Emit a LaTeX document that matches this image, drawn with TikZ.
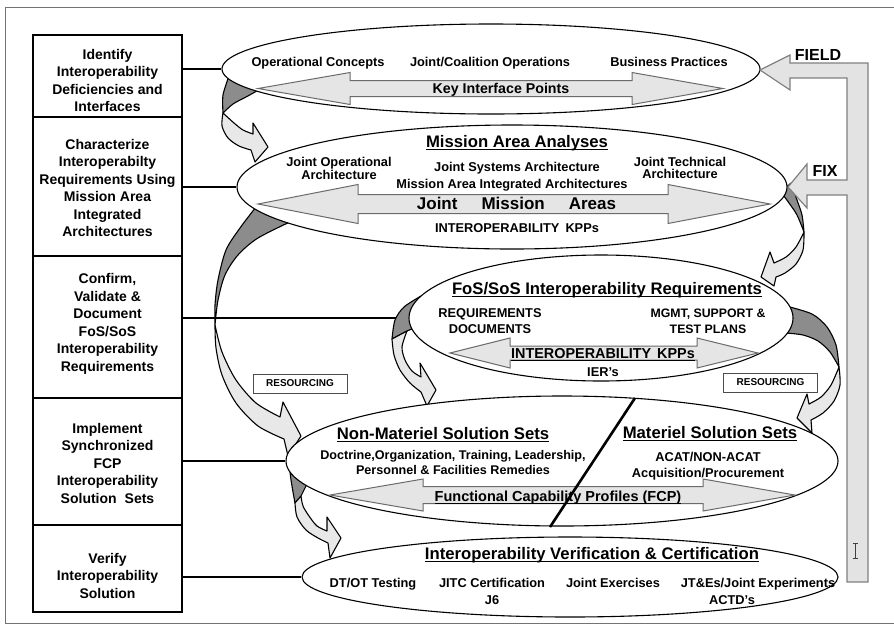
\documentclass[tikz,border=0pt]{standalone}
\usepackage{fontspec}
\setmainfont{Liberation Sans}
\usetikzlibrary{shapes.geometric}

\definecolor{ribdark}{gray}{0.55}
\definecolor{riblight}{gray}{0.91}
\definecolor{arrfill}{gray}{0.90}
\definecolor{arredge}{gray}{0.42}
\definecolor{framegray}{gray}{0.45}
\definecolor{bandfill}{gray}{0.89}
\definecolor{bandedge}{gray}{0.50}

% underline with a solid rule
\newcommand\undl[1]{\setbox0\hbox{#1}\rlap{\rule[-2.6pt]{\wd0}{1.1pt}}\box0}
\newcommand\fsz[2]{\fontsize{#1}{#2}\selectfont}

% two-headed block arrow: tipL baseL baseR tipR y shaft-half head-half
\newcommand\dblarrow[7]{%
  \filldraw[dbl] (#1,#5) -- (#2,#5-#7) -- (#2,#5-#6) -- (#3,#5-#6) -- (#3,#5-#7)
    -- (#4,#5) -- (#3,#5+#7) -- (#3,#5+#6) -- (#2,#5+#6) -- (#2,#5+#7) -- cycle;}

\pgfdeclarelayer{back}
\pgfsetlayers{back,main}

\tikzset{
  stepbox/.style={draw=black, line width=2.4pt, minimum width=149pt, inner sep=0pt},
  boxtxt/.style={align=center, font=\bfseries\fsz{14}{17.5}, inner sep=0pt},
  oval/.style={ellipse, draw=black, line width=1.1pt, fill=white, inner sep=0pt},
  lbl/.style={align=center, font=\bfseries\fsz{12.8}{16}, inner sep=0pt},
  sgl/.style={text height=9.3pt, text depth=0.3pt},
  tight/.style={align=center, font=\bfseries\fsz{12.8}{11.2}, inner sep=0pt},
  headtxt/.style={font=\bfseries\fsz{16.7}{17}, inner sep=0pt, text height=12pt, text depth=0.3pt},
  mid/.style={inner sep=0pt, text height=10.4pt, text depth=0.3pt},
  link/.style={draw=black, line width=1.1pt},
  ribdk/.style={fill=ribdark, draw=black, line width=1.1pt, line join=round},
  riblt/.style={fill=riblight, draw=black, line width=1.1pt, line join=round},
  dbl/.style={fill=arrfill, draw=arredge, line width=1pt},
  resbox/.style={draw=black!70, fill=white, line width=0.9pt, minimum width=94pt,
    minimum height=19pt, inner sep=0pt, font=\bfseries\fsz{10}{10}},
  band/.style={fill=bandfill, draw=bandedge, line width=1.2pt},
  fbtxt/.style={font=\bfseries\fsz{16}{16}, inner sep=0pt},
}

\begin{document}
\begin{tikzpicture}[x=1pt, y=-1pt]
\useasboundingbox (0,0) rectangle (894,630);

% ---- left column of process steps ----
\node[stepbox, minimum height=82pt]  (b1) at (107.5,76)    {};
\node[stepbox, minimum height=139pt] (b2) at (107.5,186.5) {};
\node[stepbox, minimum height=142pt] (b3) at (107.5,327)   {};
\node[stepbox, minimum height=127pt] (b4) at (107.5,461.5) {};
\node[stepbox, minimum height=87pt]  (b5) at (107.5,568.5) {};

\node[boxtxt] (t1) at (107.5,80.5) {Identify\\Interoperability\\Deficiencies and\\Interfaces};
\node[boxtxt] (t2) at (107.5,188) {Characterize\\Interoperabilty\\Requirements Using\\Mission Area\\Integrated\\Architectures};
\node[boxtxt] (t3) at (107.5,324) {Confirm,\\Validate \&\\Document\\FoS/SoS\\Interoperability\\Requirements};
\node[boxtxt] (t4) at (107.5,463) {Implement\\Synchronized\\FCP\\Interoperability\\Solution\hspace{8pt}Sets};
\node[boxtxt] (t5) at (107.5,575.5) {Verify\\Interoperability\\Solution};

% ---- the five ovals ----
\node[oval, minimum width=538pt, minimum height=90pt]  (e1) at (491,69)  {};
\node[oval, minimum width=550pt, minimum height=124pt] (e2) at (512,187) {};
\node[oval, minimum width=384pt, minimum height=126pt] (e3) at (601,318) {};
\node[oval, minimum width=552pt, minimum height=130pt] (e4) at (562,461) {};
\node[oval, minimum width=536pt, minimum height=80pt]  (e5) at (570,577) {};

\begin{pgfonlayer}{back}
  % outer frame
  \draw[framegray, line width=1pt] (894,7) -- (5,7) -- (5,623) -- (894,623);
  % step-to-oval links
  \draw[link] (b1.east |- e1.west) -- (e1.west);
  \draw[link] (b2.east |- e2.west) -- (e2.west);
  \draw[link] (b3.east |- e3.west) -- (e3.west);
  \draw[link] (b4.east |- e4.west) -- (e4.west);
  \draw[link] (b5.east |- e5.west) -- (e5.west);

  % twisted flow arrows between the ovals
  % oval 1 -> oval 2
  \filldraw[ribdk] plot[smooth] coordinates {(229,76) (223,95) (223,113)}
    -- plot[smooth] coordinates {(223,113) (233,104) (246,97) (264,87)} -- cycle;
  \filldraw[riblt] plot[smooth] coordinates {(223,113) (222,126) (228,138) (239,146) (251,150)}
    -- (255,162) -- (268,147) -- (253,123)
    -- plot[smooth] coordinates {(253,134) (243,130) (234,123) (223,113)} -- cycle;
  % oval 2 -> oval 4 (long left arrow)
  \filldraw[ribdk] plot[smooth] coordinates {(256,207) (240,228) (226,250) (218,280) (215,305) (215,325)}
    -- plot[smooth] coordinates {(215,325) (218,300) (225,275) (238,255) (258,238) (294,220)} -- cycle;
  \filldraw[riblt] plot[smooth] coordinates {(215,325) (216,348) (222,375) (236,403) (258,426) (284,439)}
    -- (288,456) -- (301,436) -- (283,402)
    -- plot[smooth] coordinates {(280,417) (256,403) (236,380) (222,352) (215,325)} -- cycle;
  % oval 2 -> oval 3
  \filldraw[ribdk] plot[smooth] coordinates {(791,183) (797,200) (802,215) (804,232)}
    -- plot[smooth] coordinates {(804,232) (797,215) (789,203) (781,192)} -- cycle;
  \filldraw[riblt] plot[smooth] coordinates {(804,232) (803,250) (796,264) (785,273) (776,277)}
    -- (774,286) -- (761,277) -- (770,252)
    -- plot[smooth] coordinates {(774,263) (786,257) (796,247) (804,232)} -- cycle;
  % oval 3 -> materiel side of oval 4
  \filldraw[ribdk] plot[smooth] coordinates {(786,306) (812,314) (827,327) (836,345) (839,367)}
    -- plot[smooth] coordinates {(839,367) (830,352) (818,341) (803,335) (786,333)} -- cycle;
  \filldraw[riblt] plot[smooth] coordinates {(839,367) (840,385) (834,401) (823,413) (811,420)}
    -- (812,433) -- (797,418) -- (807,394)
    -- plot[smooth] coordinates {(809,404) (821,397) (831,385) (839,367)} -- cycle;
  % oval 3 -> non-materiel side of oval 4
  \filldraw[ribdk] plot[smooth] coordinates {(421,296) (404,307) (395,320) (392,339)}
    -- (407,331) -- (428,322) -- cycle;
  \filldraw[riblt] plot[smooth] coordinates {(392,339) (394,355) (400,370) (410,383) (421,392)}
    -- (427,406) -- (436,390) -- (420,363)
    -- plot[smooth] coordinates {(421,377) (412,371) (405,360) (402,347) (407,331)} -- cycle;
  % oval 4 -> oval 5
  \filldraw[ribdk] (290,472) -- plot[smooth] coordinates {(291,480) (293,492) (295,503)}
    -- (301,496) -- (309,480) -- cycle;
  \filldraw[riblt] plot[smooth] coordinates {(295,503) (297,517) (306,530) (318,538) (328,543)}
    -- (330,558) -- (341,538) -- (327,517)
    -- plot[smooth] coordinates {(327,531) (317,526) (309,516) (303,506) (301,496)} -- cycle;
\end{pgfonlayer}

% ---- block arrows inside the ovals ----
\dblarrow{258}{350}{632}{723}{88.5}{8}{16}
\dblarrow{258}{358}{668}{770}{204}{9.5}{19.5}
\dblarrow{450}{510}{697}{758}{353}{7}{15}
\dblarrow{330}{423}{703}{795}{495}{8.5}{16}

% divider between non-materiel and materiel solution sets
\draw[black, line width=2.6pt] (635,398) -- (550,527);

% ---- oval 1 ----
\node[lbl, sgl] (oc)  at (318,62) {Operational Concepts};
\node[lbl, sgl] (jco) at (490,62) {Joint/Coalition Operations};
\node[lbl, sgl] (bp)  at (669,62) {Business Practices};
\node[font=\bfseries\fsz{14.2}{15}, mid] (kip) at (501,88) {Key Interface Points};

% ---- oval 2 ----
\node[headtxt] (maa) at (517,142) {\undl{Mission Area Analyses}};
\node[tight] (joa)  at (339,168) {Joint Operational\\Architecture};
\node[lbl, sgl] (jsa)  at (517,167) {Joint Systems Architecture};
\node[lbl, sgl] (maia) at (512,184) {Mission Area Integrated Architectures};
\node[tight] (jta)  at (680,168) {Joint Technical\\Architecture};
\node[font=\bfseries\fsz{17}{17}, inner sep=0pt, text height=12.2pt, text depth=0.3pt] (jma) at (516.5,204) {Joint\hspace{24pt}Mission\hspace{24pt}Areas};
\node[lbl, sgl] (kpp1) at (517,228) {INTEROPERABILITY\hspace{6pt}KPPs};

% ---- oval 3 ----
\node[headtxt] (fos) at (607,289) {\undl{FoS/SoS Interoperability Requirements}};
\node[lbl] (rd)  at (490,321) {REQUIREMENTS\\DOCUMENTS};
\node[lbl, font=\bfseries\fsz{12.3}{16}] (mst) at (708,321) {MGMT, SUPPORT \&\\TEST PLANS};
\node[font=\bfseries\fsz{14.4}{15}, mid] (kpp2) at (603,353) {\undl{INTEROPERABILITY\hspace{6pt}KPPs}};
\node[lbl, sgl] (ier) at (603,372) {IER’s};

% ---- oval 4 ----
\node[headtxt] (nms) at (443,434) {\undl{Non-Materiel Solution Sets}};
\node[lbl, font=\bfseries\fsz{12.6}{15}] (dotl) at (453,462.5) {Doctrine,Organization, Training, Leadership,\\Personnel \& Facilities Remedies};
\node[headtxt] (mss) at (710,433) {\undl{Materiel Solution Sets}};
\node[lbl] (acat) at (708,466) {ACAT/NON-ACAT\\Acquisition/Procurement};
\node[font=\bfseries\fsz{14.5}{15}, mid] (fcp) at (558,496) {\undl{Functional Capability Profiles (FCP)}};

% ---- oval 5 ----
\node[headtxt] (ivc) at (592,554) {\undl{Interoperability Verification \& Certification}};
\node[lbl, sgl] (dtot) at (373,583) {DT/OT Testing};
\node[lbl, font=\bfseries\fsz{12.8}{17}] (jitc) at (492,591.5) {JITC Certification\\J6};
\node[lbl, sgl] (jex)  at (613,583) {Joint Exercises};
\node[lbl, sgl] (jte)  at (758,583) {JT\&Es/Joint Experiments};
\node[lbl, sgl] (actd) at (732,600) {ACTD’s};

% ---- resourcing tags ----
\node[resbox] (res1) at (300,383.5) {RESOURCING};
\node[resbox] (res2) at (770.5,382.5) {RESOURCING};

% ---- field / fix feedback band ----
\filldraw[band] (760,70) -- (790,55) -- (790,63) -- (868,63) -- (868,582) -- (847,582)
  -- (847,195) -- (807,195) -- (807,208) -- (788,187) -- (807,164) -- (807,180)
  -- (847,180) -- (847,78) -- (790,78) -- (790,90) -- cycle;
\node[fbtxt] (field) at (818,55) {FIELD};
\node[fbtxt] (fix)   at (825,171) {FIX};

% text cursor
\draw[black!75, line width=0.8pt] (855,543) -- (855,558)
  (852.5,543) -- (857.5,543) (852.5,558) -- (857.5,558);
\end{tikzpicture}
\end{document}
